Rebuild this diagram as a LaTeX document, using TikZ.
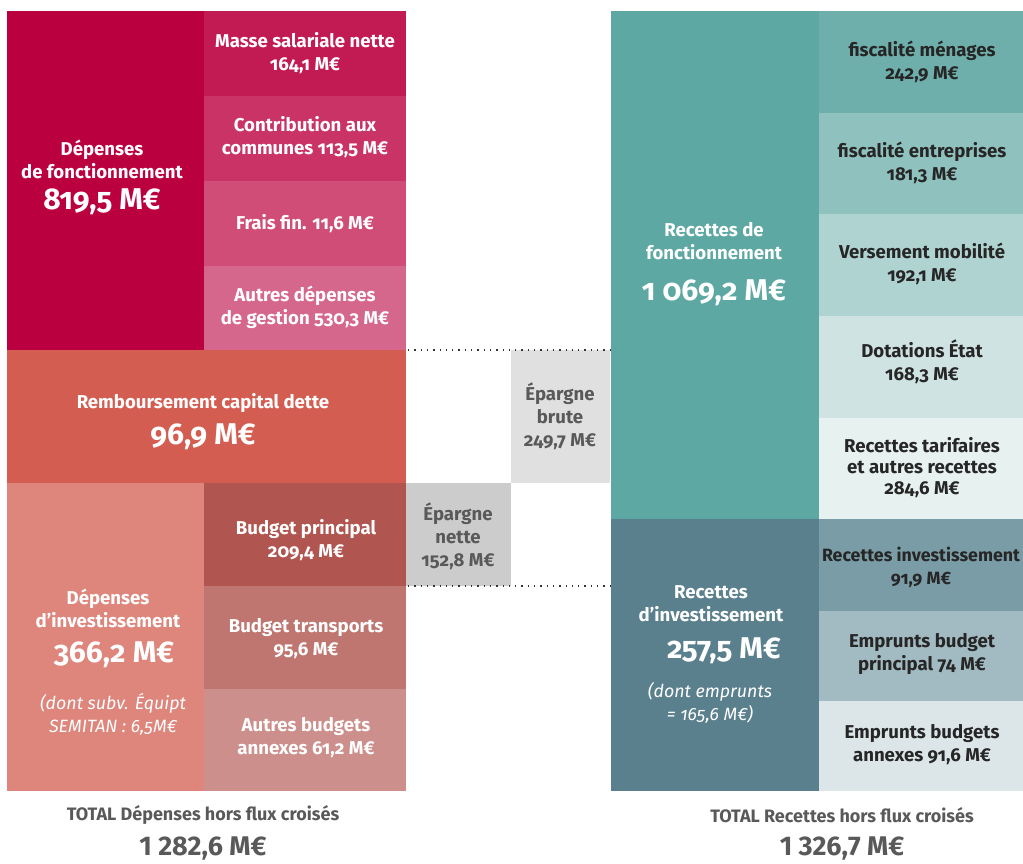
\documentclass[tikz,border=0pt]{standalone}
\usepackage{fontspec}
\setmainfont{Fira Sans}[Numbers=OldStyle]
\newfontfamily\totfont{Fira Sans}[Numbers=Lining]
\begin{document}
\begin{tikzpicture}[x=1pt,y=-1pt,
  lbl/.style={align=center,font=\bfseries\fontsize{18.6}{23}\selectfont,inner sep=0pt},
  wl/.style={lbl,text=white},
  dl/.style={lbl,text=black!85},
  big/.style={font=\bfseries\fontsize{30}{32}\selectfont,inner sep=0pt},
  itl/.style={align=center,font=\itshape\fontsize{17.8}{23}\selectfont,inner sep=0pt,text=white},
  gl/.style={lbl,text=black!65},
  tot/.style={font=\totfont\bfseries\fontsize{18}{20}\selectfont,text=black!65,inner sep=0pt},
  totbig/.style={font=\totfont\bfseries\fontsize{27}{28}\selectfont,text=black!65,inner sep=0pt},
  dots/.style={line width=1.3pt,dash pattern=on 1.3pt off 5pt,black!80}]
\useasboundingbox (0,0) rectangle (1023,864);
% colours
\definecolor{cA}{HTML}{BB0040}
\definecolor{cA1}{HTML}{C21A52}
\definecolor{cA2}{HTML}{C93366}
\definecolor{cA3}{HTML}{D04D78}
\definecolor{cA4}{HTML}{D6678C}
\definecolor{cR}{HTML}{D45D51}
\definecolor{cI}{HTML}{DE857C}
\definecolor{cI1}{HTML}{B0554F}
\definecolor{cI2}{HTML}{C07670}
\definecolor{cI3}{HTML}{CC8F8B}
\definecolor{cF}{HTML}{5EA8A3}
\definecolor{cF1}{HTML}{6EAFAB}
\definecolor{cF2}{HTML}{8FC2BE}
\definecolor{cF3}{HTML}{AFD3D1}
\definecolor{cF4}{HTML}{CFE3E2}
\definecolor{cF5}{HTML}{E7F1F0}
\definecolor{cV}{HTML}{5A808E}
\definecolor{cV1}{HTML}{7A9CA6}
\definecolor{cV2}{HTML}{A2BAC1}
\definecolor{cV3}{HTML}{DCE5E8}
\definecolor{cEB}{HTML}{E0E0E0}
\definecolor{cEN}{HTML}{CBCCCB}
% left blocks
\fill[cA] (7,11) rectangle (204,350);
\fill[cA1] (204,11) rectangle (406,96);
\fill[cA2] (204,96) rectangle (406,181);
\fill[cA3] (204,181) rectangle (406,266);
\fill[cA4] (204,266) rectangle (406,350);
\fill[cR] (7,350) rectangle (406,483);
\fill[cI] (7,483) rectangle (204,791);
\fill[cI1] (204,483) rectangle (406,586);
\fill[cI2] (204,586) rectangle (406,689);
\fill[cI3] (204,689) rectangle (406,791);
% middle
\fill[cEB] (511,350) rectangle (610,483);
\fill[cEN] (406,483) rectangle (511,586);
% right blocks
\fill[cF] (611,11) rectangle (819,519);
\fill[cF1] (819,11) rectangle (1023,113);
\fill[cF2] (819,113) rectangle (1023,214);
\fill[cF3] (819,214) rectangle (1023,316);
\fill[cF4] (819,316) rectangle (1023,418);
\fill[cF5] (819,418) rectangle (1023,519);
\fill[cV] (611,519) rectangle (819,791);
\fill[cV1] (819,519) rectangle (1023,611);
\fill[cV2] (819,611) rectangle (1023,701);
\fill[cV3] (819,701) rectangle (1023,791);
% dotted lines
\coordinate (d1a) at (408,350); \coordinate (d1b) at (611,350);
\coordinate (d2a) at (408,586); \coordinate (d2b) at (611,586);
\draw[dots] (d1a) -- (d1b);
\draw[dots] (d2a) -- (d2b);
% left labels
\node[wl] (df) at (102,159) {Dépenses\\de fonctionnement};
\node[big,text=white] (dfv) at (102,202) {819,5 M€};
\node[wl] (ms) at (305,53) {Masse salariale nette\\164,1 M€};
\node[wl] (cc) at (305,137.5) {Contribution aux\\communes 113,5 M€};
\node[wl] (ff) at (305,224) {Frais fin. 11,6 M€};
\node[wl] (ad) at (305,307.5) {Autres dépenses\\de gestion 530,3 M€};
\node[wl] (rc) at (203,403) {Remboursement capital dette};
\node[big,text=white] (rcv) at (203,437) {96,9 M€};
\node[wl] (di) at (108,608.5) {Dépenses\\d’investissement};
\node[big,text=white] (div) at (114,655) {366,2 M€};
\node[itl] (dis) at (113,714.5) {(dont subv. Équipt\\SEMITAN : 6,5M€};
\node[wl] (bp) at (306,540.5) {Budget principal\\209,4 M€};
\node[wl] (bt) at (306,638.5) {Budget transports\\95,6 M€};
\node[wl] (ab) at (306,737.5) {Autres budgets\\annexes 61,2 M€};
% middle labels
\node[gl] (eb) at (560,416) {Épargne\\brute\\249,7 M€};
\node[gl] (en) at (458,536) {Épargne\\nette\\152,8 M€};
% right labels
\node[wl] (rf) at (714,241) {Recettes de\\fonctionnement};
\node[big,text=white] (rfv) at (714,293) {1 069,2 M€};
\node[dl] (fm) at (922,61.5) {fiscalité ménages\\242,9 M€};
\node[dl] (fe) at (922,162.5) {fiscalité entreprises\\181,3 M€};
\node[dl] (vm) at (922,263.5) {Versement mobilité\\192,1 M€};
\node[dl] (de) at (922,361.5) {Dotations État\\168,3 M€};
\node[dl,font=\bfseries\fontsize{18.6}{21}\selectfont] (rt) at (922,468) {Recettes tarifaires\\et autres recettes\\284,6 M€};
\node[wl] (ri) at (711,603.5) {Recettes\\d’investissement};
\node[big,text=white] (riv) at (724,651) {257,5 M€};
\node[itl] (ris) at (710,702.5) {(dont emprunts\\= 165,6 M€)};
\node[dl,font=\bfseries\fontsize{17.8}{23}\selectfont] (rin) at (921,567.5) {Recettes investissement\\91,9 M€};
\node[dl] (ebp) at (922,654.5) {Emprunts budget\\principal 74 M€};
\node[dl] (eba) at (922,744.5) {Emprunts budgets\\annexes 91,6 M€};
% totals
\node[tot] (td) at (203,815) {TOTAL Dépenses hors flux croisés};
\node[totbig] (tdv) at (203,849) {1 282,6 M€};
\node[tot] (tr) at (842,815) {TOTAL Recettes hors flux croisés};
\node[totbig] (trv) at (842,849) {1 326,7 M€};
\end{tikzpicture}
\end{document}
